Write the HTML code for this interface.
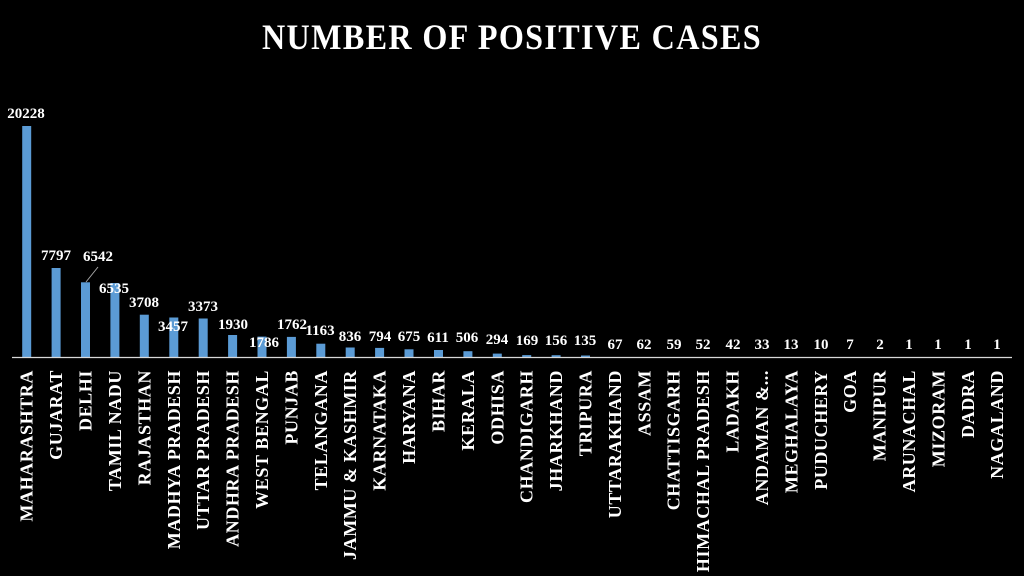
<!DOCTYPE html>
<html><head><meta charset="utf-8"><style>
html,body{margin:0;padding:0;background:#000;width:1024px;height:576px;overflow:hidden}
svg{display:block}
.v{font-family:"Liberation Serif",serif;font-size:15px;fill:#fff;text-anchor:middle;font-weight:bold}
.c{font-family:"Liberation Serif",serif;font-size:18px;fill:#fff;text-anchor:end;font-weight:bold;letter-spacing:0.6px}
</style></head><body>
<svg width="1024" height="576" viewBox="0 0 1024 576">
<rect width="1024" height="576" fill="#000"/>
<text x="512" y="49" text-anchor="middle" font-family="Liberation Serif,serif" font-weight="bold" font-size="36" fill="#fff" letter-spacing="1.5" textLength="500" lengthAdjust="spacingAndGlyphs">NUMBER OF POSITIVE CASES</text>
<g fill="#5b9bd5">
<rect x="22.2" y="126" width="9" height="231"/>
<rect x="51.6" y="268" width="9" height="89"/>
<rect x="81" y="282.3" width="9" height="74.7"/>
<rect x="110.4" y="283" width="9" height="74"/>
<rect x="139.8" y="314.7" width="9" height="42.3"/>
<rect x="169.3" y="317.5" width="9" height="39.5"/>
<rect x="198.7" y="318.5" width="9" height="38.5"/>
<rect x="228.1" y="335" width="9" height="22"/>
<rect x="257.5" y="336.6" width="9" height="20.4"/>
<rect x="286.9" y="336.9" width="9" height="20.1"/>
<rect x="316.3" y="343.7" width="9" height="13.3"/>
<rect x="345.7" y="347.5" width="9" height="9.5"/>
<rect x="375.1" y="347.9" width="9" height="9.1"/>
<rect x="404.5" y="349.3" width="9" height="7.7"/>
<rect x="434" y="350" width="9" height="7"/>
<rect x="463.4" y="351.2" width="9" height="5.8"/>
<rect x="492.8" y="353.6" width="9" height="3.4"/>
<rect x="522.2" y="355.1" width="9" height="1.9"/>
<rect x="551.6" y="355.2" width="9" height="1.8"/>
<rect x="581" y="355.5" width="9" height="1.5"/>
</g>
<line x1="12" y1="357.5" x2="1012" y2="357.5" stroke="#d9d9d9" stroke-width="1.2"/>
<line x1="86" y1="282" x2="98" y2="267" stroke="#a6a6a6" stroke-width="1"/>
<g class="v">
<text x="26" y="118">20228</text>
<text x="56" y="260">7797</text>
<text x="98" y="261">6542</text>
<text x="114" y="293">6535</text>
<text x="144" y="307">3708</text>
<text x="173" y="331">3457</text>
<text x="203" y="311">3373</text>
<text x="233" y="329">1930</text>
<text x="264" y="347">1786</text>
<text x="292" y="329">1762</text>
<text x="320" y="335">1163</text>
<text x="350" y="341">836</text>
<text x="380" y="341">794</text>
<text x="409" y="341">675</text>
<text x="438" y="342">611</text>
<text x="467" y="342">506</text>
<text x="497" y="344">294</text>
<text x="527" y="345">169</text>
<text x="556" y="345">156</text>
<text x="585" y="345">135</text>
<text x="615" y="349">67</text>
<text x="644" y="349">62</text>
<text x="674" y="349">59</text>
<text x="703" y="349">52</text>
<text x="733" y="349">42</text>
<text x="762" y="349">33</text>
<text x="791" y="349">13</text>
<text x="821" y="349">10</text>
<text x="850" y="349">7</text>
<text x="880" y="349">2</text>
<text x="909" y="349">1</text>
<text x="938" y="349">1</text>
<text x="968" y="349">1</text>
<text x="997" y="349">1</text>
</g>
<g class="c">
<text transform="translate(32.7,370) rotate(-90)">MAHARASHTRA</text>
<text transform="translate(62.1,370) rotate(-90)">GUJARAT</text>
<text transform="translate(91.5,370) rotate(-90)">DELHI</text>
<text transform="translate(120.9,370) rotate(-90)">TAMIL NADU</text>
<text transform="translate(150.3,370) rotate(-90)">RAJASTHAN</text>
<text transform="translate(179.8,370) rotate(-90)">MADHYA PRADESH</text>
<text transform="translate(209.2,370) rotate(-90)">UTTAR PRADESH</text>
<text transform="translate(238.6,370) rotate(-90)">ANDHRA PRADESH</text>
<text transform="translate(268,370) rotate(-90)">WEST BENGAL</text>
<text transform="translate(297.4,370) rotate(-90)">PUNJAB</text>
<text transform="translate(326.8,370) rotate(-90)">TELANGANA</text>
<text transform="translate(356.2,370) rotate(-90)">JAMMU &amp; KASHMIR</text>
<text transform="translate(385.6,370) rotate(-90)">KARNATAKA</text>
<text transform="translate(415,370) rotate(-90)">HARYANA</text>
<text transform="translate(444.5,370) rotate(-90)">BIHAR</text>
<text transform="translate(473.9,370) rotate(-90)">KERALA</text>
<text transform="translate(503.3,370) rotate(-90)">ODHISA</text>
<text transform="translate(532.7,370) rotate(-90)">CHANDIGARH</text>
<text transform="translate(562.1,370) rotate(-90)">JHARKHAND</text>
<text transform="translate(591.5,370) rotate(-90)">TRIPURA</text>
<text transform="translate(620.9,370) rotate(-90)">UTTARAKHAND</text>
<text transform="translate(650.3,370) rotate(-90)">ASSAM</text>
<text transform="translate(679.7,370) rotate(-90)">CHATTISGARH</text>
<text transform="translate(709.1,370) rotate(-90)">HIMACHAL PRADESH</text>
<text transform="translate(738.6,370) rotate(-90)">LADAKH</text>
<text transform="translate(768,370) rotate(-90)">ANDAMAN &amp;...</text>
<text transform="translate(797.4,370) rotate(-90)">MEGHALAYA</text>
<text transform="translate(826.8,370) rotate(-90)">PUDUCHERY</text>
<text transform="translate(856.2,370) rotate(-90)">GOA</text>
<text transform="translate(885.6,370) rotate(-90)">MANIPUR</text>
<text transform="translate(915,370) rotate(-90)">ARUNACHAL</text>
<text transform="translate(944.4,370) rotate(-90)">MIZORAM</text>
<text transform="translate(973.8,370) rotate(-90)">DADRA</text>
<text transform="translate(1003.2,370) rotate(-90)">NAGALAND</text>
</g>
</svg>
</body></html>
